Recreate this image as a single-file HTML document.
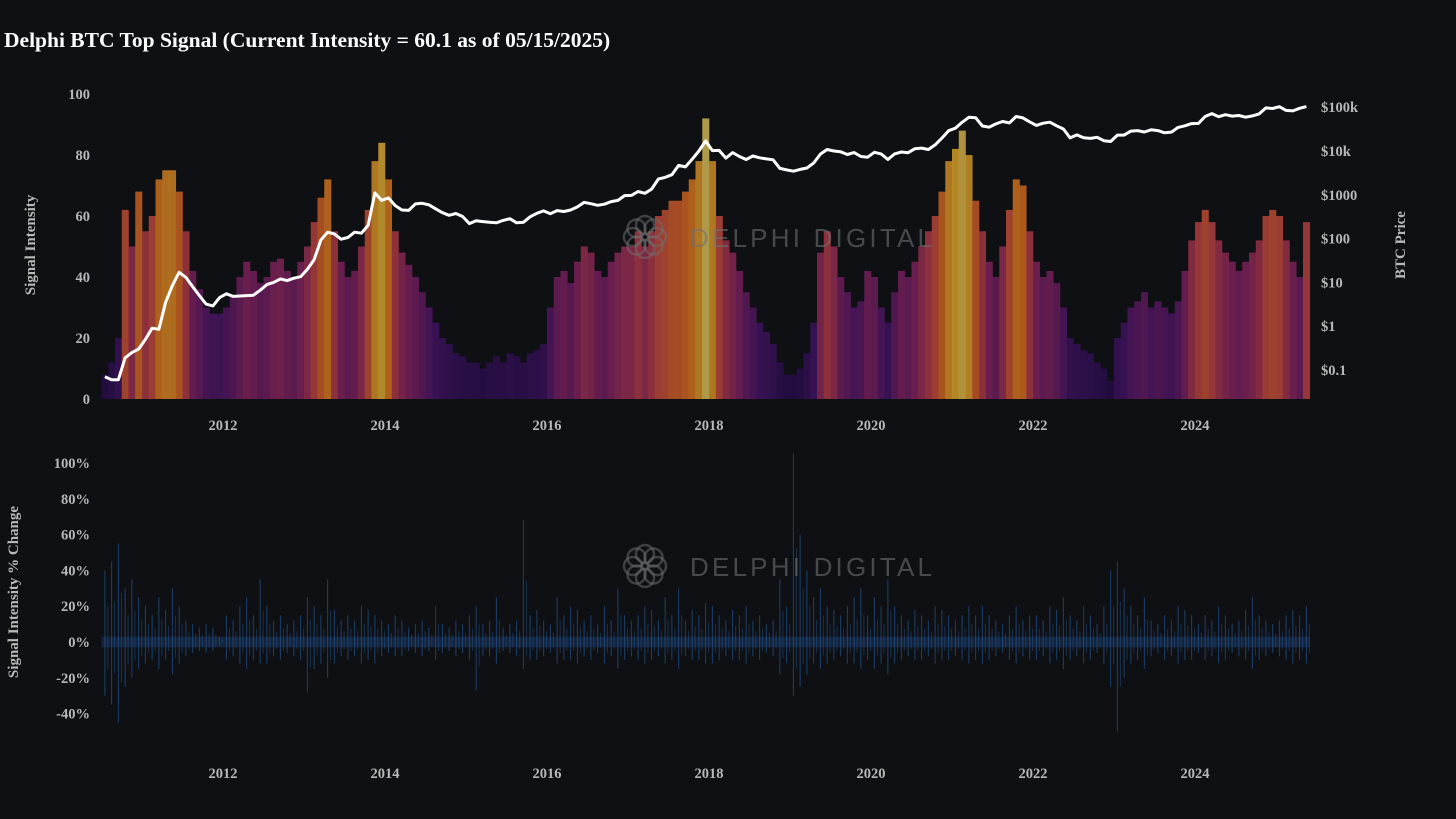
<!DOCTYPE html>
<html><head><meta charset="utf-8"><style>
html,body{margin:0;padding:0;background:#0e1013;}
svg{display:block;}
text{font-family:"Liberation Serif",serif;font-weight:bold;}
</style></head><body>
<svg id="c" width="1456" height="819" viewBox="0 0 1456 819">
<rect width="1456" height="819" fill="#0e1013"/>
<text x="4" y="47" fill="#ffffff" font-size="21.5">Delphi BTC Top Signal (Current Intensity = 60.1 as of 05/15/2025)</text>
<g id="bars"></g>
<g id="wm1"></g>
<g id="price"></g>
<g id="pct"></g>
<g id="wm2"></g>
<g id="axes"></g>
<text transform="translate(35,245) rotate(-90)" text-anchor="middle" fill="#b8b8b8" font-size="15">Signal Intensity</text>
<text transform="translate(1405,245) rotate(-90)" text-anchor="middle" fill="#b8b8b8" font-size="15">BTC Price</text>
<text transform="translate(18,592) rotate(-90)" text-anchor="middle" fill="#b8b8b8" font-size="15">Signal Intensity % Change</text>
</svg>
<script>
const startYear = 2010.5;
const intensity = [
8,12,20,62,50,68,
55,60,72,75,75,68,55,42,36,30,28,28,
30,34,40,45,42,38,40,45,46,42,40,45,
50,58,66,72,55,45,40,42,50,62,78,84,
72,55,48,44,40,35,30,25,20,18,15,14,
12,12,10,12,14,12,15,14,12,15,16,18,
30,40,42,38,45,50,48,42,40,45,48,50,
50,55,50,55,60,62,65,65,68,72,78,92,
78,60,52,48,42,35,30,25,22,18,12,8,
8,10,15,25,48,55,50,40,35,30,32,42,
40,30,25,35,42,40,45,50,55,60,68,78,
82,88,80,65,55,45,40,50,62,72,70,55,
45,40,42,38,30,20,18,16,15,12,10,6,
20,25,30,32,35,30,32,30,28,32,42,52,
58,62,58,52,48,45,42,45,48,52,60,62,
60,52,45,40,58];
const price = [
0.07,0.06,0.06,0.19,0.25,0.30,
0.5,0.9,0.85,3.5,8.5,17,13,8,5,3.2,2.9,4.5,
5.5,4.8,4.9,5,5.1,6.6,8.9,10,12,11,12.5,13.5,
20,33,93,140,128,97,106,140,133,200,1100,750,
850,570,450,440,620,640,590,480,390,340,375,320,
220,255,245,235,230,260,285,230,236,315,378,430,
370,435,415,450,530,670,625,575,610,700,745,960,
970,1190,1080,1350,2300,2500,2870,4700,4340,6450,10000,17000,
10200,10300,6900,9200,7500,6400,7700,7000,6600,6300,4000,3700,
3450,3800,4100,5300,8500,10800,10000,9600,8300,9200,7500,7200,
9350,8600,6400,8600,9500,9150,11300,11650,10800,13800,19700,29000,
33100,45200,58800,57700,37300,35000,41500,47100,43800,61300,57000,46300,
38500,43200,45500,37700,31800,19900,23300,20000,19400,20500,17200,16500,
23100,23100,28500,29300,27200,30500,29200,26000,27000,34500,37700,42300,
42600,61200,71300,60600,67500,62700,64600,59000,63300,70200,96400,93400,
102400,84400,82500,94200,103000];
const pctUp = [
40,45,55,30,35,25,
20,15,25,18,30,20,12,10,8,10,8,3,
15,12,20,25,15,35,20,12,15,10,12,15,
25,20,15,35,18,12,15,12,20,18,15,12,
10,15,12,8,10,12,8,20,10,8,12,10,
15,20,10,12,25,8,10,12,68,15,18,12,
10,25,15,20,18,12,15,10,20,12,30,15,
12,15,20,18,12,25,15,30,12,18,15,22,
20,15,12,18,15,20,12,15,10,12,35,20,
105,60,40,25,30,20,18,15,20,25,30,15,
25,20,35,20,15,12,18,15,12,20,18,15,
12,15,20,15,20,15,12,10,15,20,12,15,
15,12,20,18,25,15,12,20,15,10,20,40,
45,30,20,15,25,12,10,15,12,20,18,15,
10,15,12,20,15,10,12,18,25,15,12,10,
12,15,18,15,20];
const pctDown = [
30,35,45,25,20,15,
12,10,15,10,18,12,8,6,5,6,5,2,
10,8,12,15,10,12,12,8,10,6,8,10,
28,15,12,20,12,8,10,8,12,10,12,8,
6,8,8,5,6,8,5,10,6,5,8,6,
10,27,8,8,12,5,6,8,15,10,10,8,
6,12,10,10,12,8,10,6,12,8,15,10,
8,10,12,10,8,12,10,15,8,10,10,12,
12,10,8,10,10,12,8,10,6,8,18,12,
30,25,18,12,15,12,10,8,12,12,15,10,
15,12,18,12,10,8,10,10,8,12,10,10,
8,10,12,10,12,10,8,6,10,12,8,10,
10,8,12,10,15,10,8,12,10,6,12,25,
50,20,12,10,15,8,6,10,8,12,10,10,
6,10,8,12,10,6,8,10,15,10,8,6,
8,10,12,10,12];
const yearTicks = [2012,2014,2016,2018,2020,2022,2024];
const intensityTicks = [0,20,40,60,80,100];
const priceTicks = [0.1,1,10,100,1000,10000,100000];
const priceTickLabels = ["$0.1","$1","$10","$100","$1000","$10k","$100k"];
const pctTicks = [-40,-20,0,20,40,60,80,100];

const NS="http://www.w3.org/2000/svg";
function mk(tag,attrs,parent){const e=document.createElementNS(NS,tag);for(const k in attrs)e.setAttribute(k,attrs[k]);parent.appendChild(e);return e;}
const xS = t => 223 + (t-2012)*81;
const yI = v => 399 - v*3.05;
const yP = p => 370 - (Math.log10(p)+1)*43.8;
const yC = v => 642 - v*1.79;
const monthT = i => startYear + i/12;
const bw = 81/12;

function colorFor(v){
  const stops=[[0,[26,10,58]],[25,[62,18,92]],[45,[118,32,86]],[58,[170,60,60]],[70,[195,100,28]],[82,[200,150,40]],[95,[195,180,95]]];
  for(let i=1;i<stops.length;i++){ if(v<=stops[i][0]){const a=stops[i-1],b=stops[i];const f=(v-a[0])/(b[0]-a[0]);
    return 'rgb('+a[1].map((c,j)=>Math.round(c+(b[1][j]-c)*f)).join(',')+')';}}
  return 'rgb(195,180,95)';
}
const bars=document.getElementById('bars');
intensity.forEach((v,i)=>{
  const x0=xS(monthT(i));
  const r=mk('rect',{x:x0.toFixed(2),y:yI(v).toFixed(2),width:(bw+0.3).toFixed(2),height:(v*3.05).toFixed(2),fill:colorFor(v),opacity:0.88},bars);
  
  
});
const pg=document.getElementById('price');
const pts=price.map((p,i)=>xS(monthT(i)+1/24).toFixed(1)+','+yP(p).toFixed(1)).join(' ');
const pl=mk('polyline',{points:pts,fill:'none',stroke:'#ffffff','stroke-width':3,'stroke-linejoin':'round'},pg);



const pc=document.getElementById('pct');
const band=mk('rect',{x:xS(startYear),y:yC(3),width:xS(monthT(price.length))-xS(startYear),height:yC(-3)-yC(3),fill:'#1d3f6e',opacity:0.45},pc);


pctUp.forEach((u,i)=>{
  const d=pctDown[i];
  const x=xS(monthT(i)+0.5/12);
  const ln=mk('line',{x1:x,x2:x,y1:yC(-d),y2:yC(u),stroke:'#24548e','stroke-width':1,opacity:0.7},pc);
  
  
  const ln2=mk('line',{x1:x+3,x2:x+3,y1:yC(-d*0.5),y2:yC(u*0.5),stroke:'#24548e','stroke-width':1,opacity:0.5},pc);
  
  
});

const ax=document.getElementById('axes');
function lab(x,y,s,anchor,name){const t=mk('text',{x:x,y:y,fill:'#b8b8b8','font-size':14.5,'text-anchor':anchor},ax);t.textContent=s;
  }
yearTicks.forEach(y=>{lab(xS(y),430,String(y),'middle','x-tick-top');lab(xS(y),778,String(y),'middle','x-tick-bottom');});
intensityTicks.forEach(v=>lab(90,yI(v)+5,String(v),'end','y-tick-intensity'));
priceTicks.forEach((p,i)=>lab(1321,yP(p)+5,priceTickLabels[i],'start','y-tick-price'));
pctTicks.forEach(v=>lab(90,yC(v)+5,v+'%','end','y-tick-pct'));

function watermark(g,cy){
  const cx=645;
  for(let k=0;k<8;k++){const a=k*Math.PI/4;
    mk('circle',{cx:cx+12*Math.cos(a),cy:cy+12*Math.sin(a),r:9,fill:'none',stroke:'#707070','stroke-width':2.5,opacity:0.5},g);}
  const t=mk('text',{x:690,y:cy+10,fill:'#707070','font-size':26,'letter-spacing':3,opacity:0.6,textLength:245,lengthAdjust:'spacing',style:'font-family:"Liberation Sans",sans-serif;font-weight:normal'},g);
  t.textContent='DELPHI DIGITAL';
  
  
}
watermark(document.getElementById('wm1'),237);
watermark(document.getElementById('wm2'),566);
</script>
</body></html>
